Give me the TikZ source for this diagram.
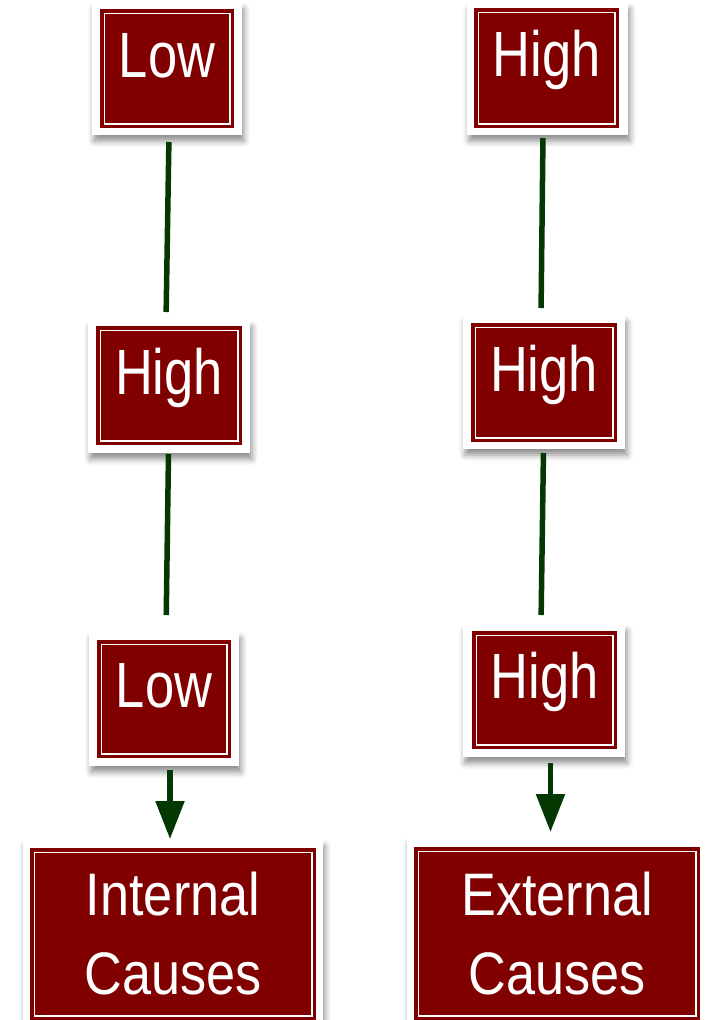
\documentclass[tikz,border=0pt]{standalone}
\usepackage{fontspec}
\usetikzlibrary{arrows.meta,shadows.blur}
\newfontfamily\boxfont[FakeStretch=0.82]{Liberation Sans}
\newfontfamily\causefont[FakeStretch=0.87]{Liberation Sans}
\definecolor{maroonfill}{HTML}{800000}
\definecolor{linkgreen}{HTML}{033803}
\tikzset{
  card/.style={fill=white, draw=none, inner sep=0pt, outer sep=0pt,
    blur shadow={shadow xshift=2pt, shadow yshift=-6pt,
      shadow blur radius=6pt, shadow opacity=45}},
  redbox/.style={fill=maroonfill, draw=maroonfill, double=white,
    double distance=1.8pt, line width=3.5pt, text=white,
    inner sep=0pt, outer sep=0pt},
  smalltext/.style={font=\boxfont\fontsize{64pt}{77pt}\selectfont,
    text height=46pt, text depth=28.5pt},
  bigtext/.style={font=\causefont\fontsize{60pt}{79pt}\selectfont,
    align=center},
  link/.style={draw=linkgreen, line width=5.5pt},
  arrowlink/.style={link, -{Triangle[length=38pt,width=28pt]}}
}
\begin{document}
\begin{tikzpicture}[x=1pt,y=-1pt]
\useasboundingbox (0,0) rectangle (706,1020);

% left column: white cards
\node[card, minimum width=150pt, minimum height=132pt] (c1) at (167,69) {};
\node[card, minimum width=162pt, minimum height=132pt] (c2) at (169,387) {};
\node[card, minimum width=150pt, minimum height=134pt] (c3) at (164,699) {};
\node[card, minimum width=300pt, minimum height=188pt] (c4) at (173,934) {};
% right column: white cards
\node[card, minimum width=161pt, minimum height=132pt] (c5) at (547.5,69) {};
\node[card, minimum width=162pt, minimum height=133pt] (c6) at (544,382.5) {};
\node[card, minimum width=162pt, minimum height=132pt] (c7) at (544,691) {};
\node[card, minimum width=299pt, minimum height=190pt] (c8) at (556.5,933) {};

% red labelled boxes
\node[redbox, smalltext, minimum width=125.2pt, minimum height=110.2pt] (r1) at (167,68.5) {Low};
\node[redbox, smalltext, minimum width=137.2pt, minimum height=110.2pt] (r2) at (169,385.5) {High};
\node[redbox, smalltext, minimum width=125.2pt, minimum height=109.2pt] (r3) at (164,699) {Low};
\node[redbox, bigtext, minimum width=277.2pt, minimum height=163.2pt] (r4) at (173,934) {Internal\\Causes};
\node[redbox, smalltext, minimum width=136.2pt, minimum height=111.2pt] (r5) at (546.5,68) {High};
\node[redbox, smalltext, minimum width=137.2pt, minimum height=110.2pt] (r6) at (544,382.5) {High};
\node[redbox, smalltext, minimum width=136.2pt, minimum height=109.2pt] (r7) at (544.5,690) {High};
\node[redbox, bigtext, minimum width=277.2pt, minimum height=164.2pt] (r8) at (557,933.5) {External\\Causes};

% connectors, left column
\draw[link, shorten <=7pt, shorten >=9pt] ([xshift=2pt]c1.south) -- ([xshift=-3pt]c2.north);
\draw[link, shorten <=1pt, shorten >=17pt] ([xshift=-0.5pt]c2.south) -- ([xshift=2pt]c3.north);
\draw[arrowlink, shorten <=4pt, shorten >=1pt] ([xshift=6pt]c3.south) -- ([xshift=-3pt]c4.north);
% connectors, right column
\draw[link, shorten <=3pt, shorten >=8pt] ([xshift=-4.5pt]c5.south) -- ([xshift=-3pt]c6.north);
\draw[link, shorten <=4pt, shorten >=10pt] ([xshift=-0.5pt]c6.south) -- ([xshift=-3pt]c7.north);
\draw[arrowlink, shorten <=6pt, shorten >=6pt] ([xshift=6.5pt]c7.south) -- ([xshift=-6pt]c8.north);
\end{tikzpicture}
\end{document}
